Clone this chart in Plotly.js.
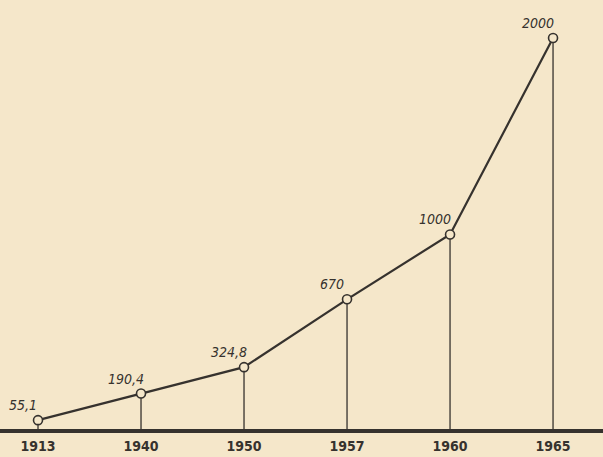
<!DOCTYPE html>
<html>
<head>
<meta charset="utf-8">
<script src="https://cdn.plot.ly/plotly-3.0.1.min.js"></script>
<style>
  html, body { margin: 0; padding: 0; background: #f5e7ca; }
  #chart { width: 603px; height: 457px; }
</style>
</head>
<body>
<div id="chart"></div>
<script>
// Data
const years = ["1913", "1940", "1950", "1957", "1960", "1965"];
const values = [55.1, 190.4, 324.8, 670, 1000, 2000];
const valueLabels = ["55,1", "190,4", "324,8", "670", "1000", "2000"];

const ink = "#36322e";
const paper = "#f5e7ca";

const trace = {
  x: years,
  y: values,
  type: "scatter",
  mode: "lines+markers",
  line: { color: ink, width: 2.2 },
  marker: { symbol: "circle", size: 9, color: paper, line: { color: ink, width: 1.6 } },
  error_y: {
    type: "data",
    symmetric: false,
    array: values.map(() => 0),
    arrayminus: values,
    width: 0,
    thickness: 1.3,
    color: ink
  },
  hoverinfo: "skip",
  showlegend: false
};

// category axis: annotations positioned by category index
const annotations = years.map((yr, i) => ({
  x: i,
  y: values[i],
  xref: "x",
  yref: "y",
  text: valueLabels[i],
  showarrow: false,
  xshift: -15,
  yshift: 15,
  font: { family: "DejaVu Sans Condensed, Liberation Sans Narrow, sans-serif", size: 14, color: ink, style: "italic" }
}));

const layout = {
  width: 603,
  height: 457,
  margin: { l: 0, r: 0, t: 0, b: 22, pad: 0 },
  paper_bgcolor: paper,
  plot_bgcolor: paper,
  xaxis: {
    type: "category",
    range: [-0.369, 5.485],
    showgrid: false,
    zeroline: false,
    showline: false,
    ticks: "",
    ticklabelstandoff: 1,
    tickfont: { family: "DejaVu Sans Condensed, Liberation Sans Narrow, sans-serif", size: 14, color: ink, weight: "bold" },
    fixedrange: true
  },
  yaxis: {
    range: [-20.4, 2193],
    visible: false,
    fixedrange: true
  },
  shapes: [{
    type: "line",
    xref: "paper",
    yref: "y",
    x0: 0, x1: 1,
    y0: 0, y1: 0,
    line: { color: ink, width: 4 },
    layer: "above"
  }],
  annotations: annotations
};

Plotly.newPlot("chart", [trace], layout, { displayModeBar: false, staticPlot: true });
</script>
</body>
</html>
